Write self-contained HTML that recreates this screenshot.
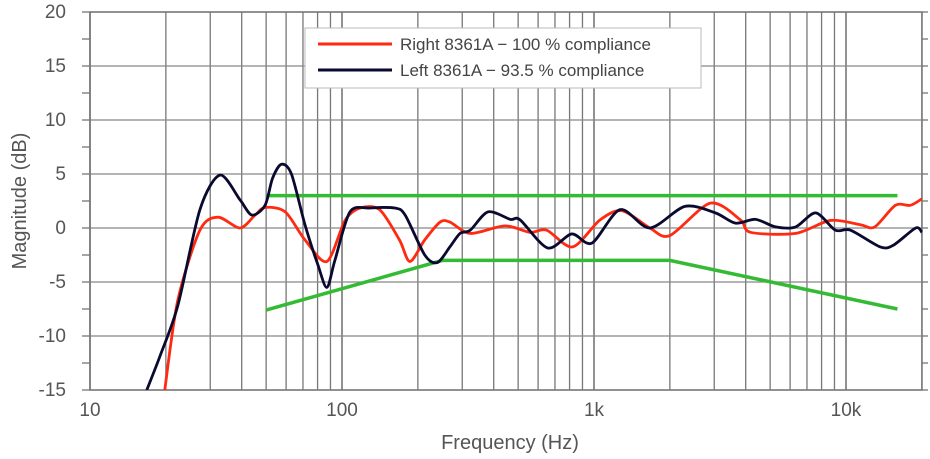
<!DOCTYPE html>
<html><head><meta charset="utf-8"><style>
body{margin:0;background:#fff;}
svg{display:block;font-family:"Liberation Sans",sans-serif;}
</style></head><body>
<svg id="chart" width="930" height="459" viewBox="0 0 930 459" xmlns="http://www.w3.org/2000/svg">
<g id="grid"></g>
<g id="ticks"></g>
<g id="series"></g>
<text x="510" y="449" font-size="20" fill="#555" text-anchor="middle">Frequency (Hz)</text>
<text transform="translate(26,201) rotate(-90)" font-size="20" fill="#555" text-anchor="middle">Magnitude (dB)</text>
<g>
<rect x="305" y="28" width="396" height="60" fill="#fff" stroke="#bbb"/>
<line x1="318" y1="44" x2="392" y2="44" stroke="#ff2a10" stroke-width="3"/>
<text x="400" y="50" font-size="17" fill="#444">Right 8361A − 100 % compliance</text>
<line x1="318" y1="70" x2="392" y2="70" stroke="#0a0a30" stroke-width="3"/>
<text x="400" y="76" font-size="17" fill="#444">Left 8361A − 93.5 % compliance</text>
</g>
</svg>
<script>
const yTicks=[20,15,10,5,0,-5,-10,-15];
const xTickVals=[10,100,1000,10000];
const xTickLabels=["10","100","1k","10k"];
const rightFreq=[19.8,22.3,27.3,32.2,39.4,45.2,49.5,59.5,71.3,87.1,102.8,118,141,169,186,213,245,268,323,443,557,649,822,1057,1292,1666,2000,2895,3812,4180,6312,8670,11400,13000,15700,18000,20000];
const rightDb=[-15,-6.7,-0.2,1.0,0,1.2,1.9,1.5,-1.1,-3.1,0.7,1.85,1.7,-1.1,-3.1,-1.1,0.55,0.55,-0.5,0.2,-0.4,-0.2,-1.75,0.75,1.6,0,-0.7,2.3,0.75,-0.4,-0.5,0.7,0.3,0.1,2.1,2.1,2.7];
const leftFreq=[16.8,19.0,22.3,27.3,32.8,39.4,43.9,49.5,53,57.5,63,71.3,80.2,87.1,93.7,107.6,129,162,178,213,239,268,294,323,380,465,509,655,816,981,1269,1666,2295,3031,3641,4376,5256,6312,7580,9072,10420,13670,15400,18900,20000];
const leftDb=[-15,-11.8,-7.2,1.7,4.9,2.6,1.2,2.1,4.6,5.9,5.0,0.3,-3.4,-5.5,-3,1.5,1.85,1.85,1.2,-2.5,-3.2,-1.75,-0.5,-0.2,1.5,0.8,0.75,-1.85,-0.55,-1.4,1.7,0,2.0,1.4,0.45,0.8,0.1,0.1,1.4,-0.2,-0.2,-1.75,-1.6,0,-0.4];
const upperFreq=[50,16000];
const upperDb=[3,3];
const lowerFreq=[50,250,2000,16000];
const lowerDb=[-7.6,-3,-3,-7.5];

const X0=90,DEC=252,Y0=228,PXDB=10.8,TOP=12,BOT=390,RIGHT=922;
const xs=f=>X0+DEC*Math.log10(f/10);
const ys=d=>Y0-PXDB*d;
const NS="http://www.w3.org/2000/svg";
function mk(tag,attrs,parent){const e=document.createElementNS(NS,tag);for(const k in attrs)e.setAttribute(k,attrs[k]);parent.appendChild(e);return e;}
const grid=document.getElementById('grid'),ticks=document.getElementById('ticks'),series=document.getElementById('series');
for(let dec=10;dec<=10000;dec*=10){for(let m=1;m<=9;m++){const f=dec*m;if(f>20000)break;const x=xs(f);
const l=mk('line',{x1:x,y1:TOP,x2:x,y2:BOT,stroke:'#777','stroke-width':m===1?1.6:1.3},grid);

}}
yTicks.forEach(v=>{const y=ys(v);
const l=mk('line',{x1:X0,y1:y,x2:RIGHT,y2:y,stroke:'#888','stroke-width':1.3},grid);


const t=mk('text',{x:66,y:y+6,'font-size':19,fill:'#555','text-anchor':'end'},ticks);t.textContent=v;

});
for(let v=-15;v<=20;v+=2.5){const y=ys(v);mk('line',{x1:X0-8,y1:y,x2:X0,y2:y,stroke:'#777','stroke-width':1.3},ticks);mk('line',{x1:RIGHT,y1:y,x2:RIGHT+6,y2:y,stroke:'#777','stroke-width':1.3},ticks);}
xTickVals.forEach((v,i)=>{const t=mk('text',{x:xs(v),y:416,'font-size':19,fill:'#555','text-anchor':'middle'},ticks);t.textContent=xTickLabels[i];

});
mk('rect',{x:X0,y:TOP,width:RIGHT-X0,height:BOT-TOP,fill:'none',stroke:'#777','stroke-width':1.5},grid);
function smooth(F,D){const p=F.map((f,i)=>[xs(f),ys(D[i])]);let d='M'+p[0][0]+','+p[0][1];
for(let i=0;i<p.length-1;i++){const a=p[i-1]||p[i],b=p[i],c=p[i+1],e=p[i+2]||c;
d+=' C'+(b[0]+(c[0]-a[0])/7)+','+(b[1]+(c[1]-a[1])/7)+' '+(c[0]-(e[0]-b[0])/7)+','+(c[1]-(e[1]-b[1])/7)+' '+c[0]+','+c[1];}return d;}
function poly(F,D){return F.map((f,i)=>xs(f)+','+ys(D[i])).join(' ');}
mk('clipPath',{id:'clip'},series);mk('rect',{x:X0,y:TOP,width:RIGHT-X0+4,height:BOT-TOP},document.getElementById('clip'));
const u=mk('polyline',{points:poly(upperFreq,upperDb),fill:'none',stroke:'#33bb33','stroke-width':3.5},series);


const lo=mk('polyline',{points:poly(lowerFreq,lowerDb),fill:'none',stroke:'#33bb33','stroke-width':3.5},series);


const r=mk('path',{d:smooth(rightFreq,rightDb),fill:'none',stroke:'#ff2a10','stroke-width':2.8,'clip-path':'url(#clip)'},series);


const lf=mk('path',{d:smooth(leftFreq,leftDb),fill:'none',stroke:'#0a0a30','stroke-width':2.8,'clip-path':'url(#clip)'},series);


</script>
</body></html>
